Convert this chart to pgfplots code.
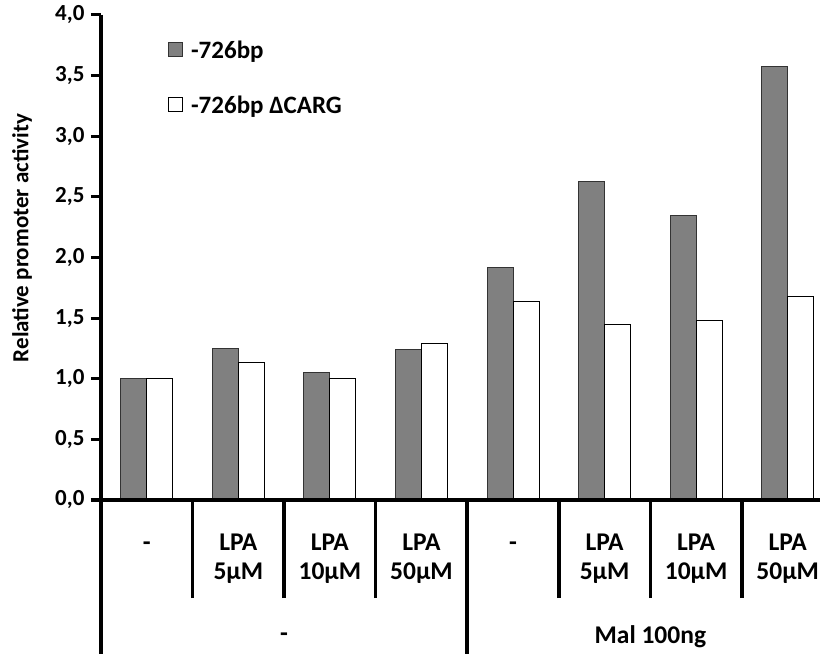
\documentclass[border=0pt]{standalone}
\usepackage{fontspec}
\setmainfont{Carlito}
\usepackage{pgfplots}
\pgfplotsset{compat=1.18}
\definecolor{darkbar}{RGB}{128,128,128}
\begin{document}
\begin{tikzpicture}
\begin{axis}[
  name=ax,
  scale only axis,
  width=719pt, height=485pt,
  xmin=-0.5, xmax=7.353,
  ymin=0, ymax=4,
  ybar=0pt, bar width=26pt,
  clip=false,
  axis x line*=bottom,
  axis y line*=left,
  axis line style={draw=none},
  ytick={0,0.5,...,4},
  ytick style={draw=none},
  tick align=outside,
  major tick length=10pt,
  /pgf/number format/.cd, use comma, fixed, fixed zerofill, precision=1, assume math mode=true,
  /pgfplots/.cd,
  yticklabel style={font=\fontsize{23}{26}\selectfont\bfseries, xshift=-3pt},
  extra y ticks={0,0.5,...,4},
  extra y tick labels={},
  extra y tick style={ytick style={draw=black, line width=3pt}, major tick length=10pt},
  xtick={0,...,7},
  xtick style={draw=none},
  xticklabels={{\strut-},{\strut LPA\\5µM},{\strut LPA\\10µM},{\strut LPA\\50µM},{\strut-},{\strut LPA\\5µM},{\strut LPA\\10µM},{\strut LPA\\50µM}},
  xticklabel style={font=\fontsize{25.5}{29}\selectfont\bfseries, align=center, anchor=north, yshift=-17pt},
  extra x ticks={0.5,1.5,2.5,4.5,5.5,6.5},
  extra x tick labels={},
  extra x tick style={xtick style={draw=black, line width=3.5pt}, major tick length=98pt},
  ylabel={Relative promoter activity},
  ylabel style={font=\fontsize{23}{26}\selectfont\bfseries, at={(rel axis cs:0,0.54)}, anchor=center, yshift=79pt},
  legend style={at={(rel axis cs:0.089,0.955)}, anchor=north west, draw=none, fill=none,
    font=\fontsize{25}{28}\selectfont\bfseries, row sep=32pt, cells={anchor=west}},
  legend image code/.code={\draw[#1, line width=0.8pt] (0pt,-6pt) rectangle (14pt,8pt); \path (20pt,0pt);},
]
\addplot[fill=darkbar, draw=black!80, line width=1pt] coordinates {
  (0,1.00) (1,1.25) (2,1.05) (3,1.24) (4,1.92) (5,2.625) (6,2.35) (7,3.575)};
\addlegendentry{-726bp}
\addplot[fill=white, draw=black, line width=1pt] coordinates {
  (0,1.00) (1,1.13) (2,1.00) (3,1.29) (4,1.64) (5,1.45) (6,1.48) (7,1.68)};
\addlegendentry{-726bp ΔCARG}
\node[font=\fontsize{25.5}{28}\selectfont\bfseries] at (axis cs:1.5,0) [yshift=-137pt] {-};
\node[font=\fontsize{25.5}{28}\selectfont\bfseries] at (axis cs:5.5,0) [yshift=-137pt] {Mal 100ng};
\draw[line width=3.5pt] (rel axis cs:0,1) -- (axis cs:-0.5,0) -- ++(0pt,-154pt);
\draw[line width=3.5pt] (axis cs:-0.5,0) ++(-10pt,0pt) -- (rel axis cs:1,0);
\draw[line width=3.5pt] (axis cs:3.5,0) -- ++(0pt,-154pt);
\end{axis}
\pgfresetboundingbox
\path (ax.south west) ++(-101pt,-154pt) coordinate (bl);
\path (ax.north east) ++(0pt,15pt) coordinate (tr);
\useasboundingbox (bl) rectangle (tr);
\end{tikzpicture}
\end{document}
